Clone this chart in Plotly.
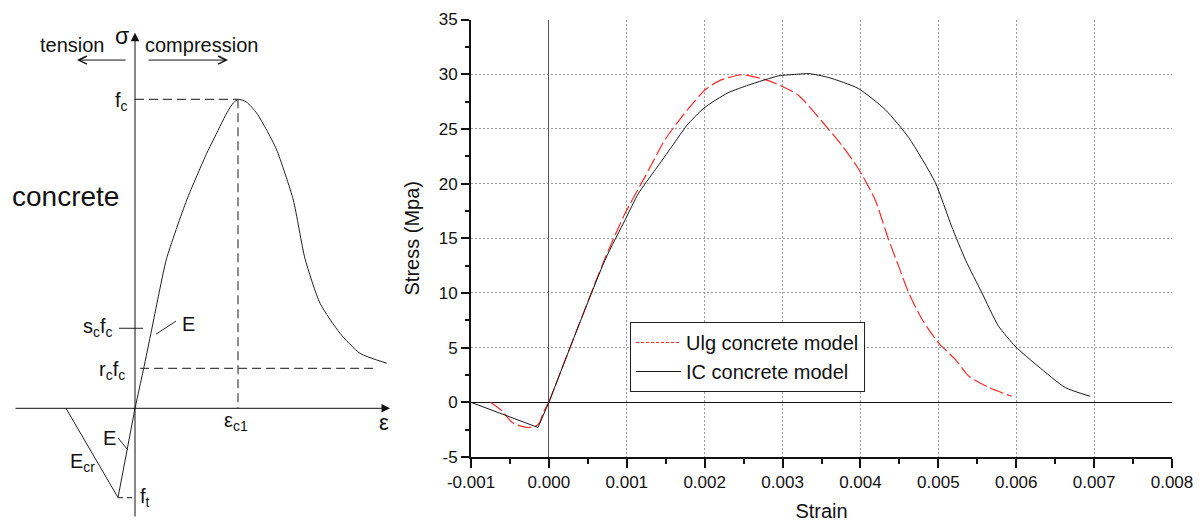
import plotly.graph_objects as go

# ---------------- right chart data ----------------
ic_strain = [-0.001, -0.00014, 0.0, 0.00072, 0.00098, 0.00115, 0.00137, 0.00158, 0.00177,
             0.00199, 0.0023, 0.00256, 0.00278, 0.00295, 0.0032, 0.00334, 0.00359, 0.00397,
             0.00432, 0.00462, 0.00496, 0.00517, 0.00535, 0.00556, 0.00577, 0.00599, 0.00628,
             0.00663, 0.00695]
ic_stress = [0.0, -2.3, 0.0, 13.0, 16.7, 19.1, 21.3, 23.4, 25.3,
             26.9, 28.3, 29.0, 29.5, 29.85, 30.0, 30.05, 29.7, 28.7,
             26.75, 24.2, 20.1, 16.1, 13.0, 10.0, 7.0, 5.1, 3.3,
             1.35, 0.55]

ulg_strain = [-0.00075, -0.0006, -0.00047, -0.00035, -0.00026, -0.00015, -0.00011, -0.00007, 0.0,
              0.00074, 0.00098, 0.00124, 0.00149, 0.00175, 0.00201, 0.00222, 0.00248, 0.00278,
              0.00299, 0.0032, 0.00354, 0.00376, 0.00397, 0.00419, 0.00436, 0.00449, 0.00462,
              0.00479, 0.005, 0.00522, 0.00539, 0.00565, 0.00594]
ulg_stress = [0.0, -0.8, -1.85, -2.2, -2.3, -2.1, -1.7, -0.9, 0.0,
              13.5, 17.3, 20.7, 24.0, 26.5, 28.6, 29.5, 29.95, 29.5,
              28.9, 28.1, 25.4, 23.5, 21.4, 18.5, 14.9, 12.45, 10.0,
              7.6, 5.45, 3.9, 2.4, 1.35, 0.55]

series_names = ["Ulg concrete model", "IC concrete model"]

x_ticks = [-0.001, 0.0, 0.001, 0.002, 0.003, 0.004, 0.005, 0.006, 0.007, 0.008]
x_tick_text = ["-0.001", "0.000", "0.001", "0.002", "0.003", "0.004", "0.005", "0.006", "0.007", "0.008"]
x_minor = [-0.0005, 0.0005, 0.0015, 0.0025, 0.0035, 0.0045, 0.0055, 0.0065, 0.0075]
y_ticks = [-5, 0, 5, 10, 15, 20, 25, 30, 35]
y_tick_text = ["-5", "0", "5", "10", "15", "20", "25", "30", "35"]
y_minor = [-2.5, 2.5, 7.5, 12.5, 17.5, 22.5, 27.5, 32.5]
x_grid = [0.001, 0.002, 0.003, 0.004, 0.005, 0.006, 0.007]
y_grid = [5, 10, 15, 20, 25, 30]

# ---------------- left schematic data (eps / eps_c1, sigma / f_c) ----------------
sch_comp_eps = [0.0, 0.081, 0.161, 0.226, 0.307, 0.502, 0.696, 0.760, 0.890, 0.954, 1.003, 1.084,
                1.182, 1.279, 1.376, 1.537, 1.650, 1.796, 1.990, 2.184, 2.444]
sch_comp_sig = [0.0, 0.124, 0.253, 0.361, 0.485, 0.674, 0.825, 0.868, 0.955, 0.988, 1.0, 0.991,
                0.955, 0.900, 0.836, 0.674, 0.485, 0.340, 0.243, 0.178, 0.146]
sch_tens_eps = [0.0, -0.165, -0.670]
sch_tens_sig = [0.0, -0.289, 0.0]
fc_level = 1.0
eps_c1 = 1.0
sc_level = 0.259
rc_level = 0.129
ft_level = -0.289

FONT = "Arial, Liberation Sans, sans-serif"
W, H = 1203, 522

fig = go.Figure()


def split_at_zero(xs, ys):
    """tension branch (x <= 0) and compression branch (x >= 0)"""
    t = [(a, b) for a, b in zip(xs, ys) if a <= 0]
    c = [(a, b) for a, b in zip(xs, ys) if a >= 0]
    return [p[0] for p in t], [p[1] for p in t], [p[0] for p in c], [p[1] for p in c]


ulg_tx, ulg_ty, ulg_cx, ulg_cy = split_at_zero(ulg_strain, ulg_stress)
ic_tx, ic_ty, ic_cx, ic_cy = split_at_zero(ic_strain, ic_stress)

red = dict(color="#ff2a2a", width=1.2, dash="14px,4px")
blk = dict(color="#1a1a1a", width=1)

# ---- right chart traces ----
fig.add_trace(go.Scatter(x=ulg_tx, y=ulg_ty, mode="lines", showlegend=False,
                         line=dict(red, shape="spline", smoothing=0.8)))
fig.add_trace(go.Scatter(x=ulg_cx, y=ulg_cy, mode="lines", showlegend=False,
                         line=dict(red, shape="spline", smoothing=0.6)))
fig.add_trace(go.Scatter(x=ic_tx, y=ic_ty, mode="lines", showlegend=False, line=blk))
fig.add_trace(go.Scatter(x=ic_cx, y=ic_cy, mode="lines", showlegend=False,
                         line=dict(blk, shape="spline", smoothing=0.6)))
fig.add_trace(go.Scatter(x=[None], y=[None], mode="lines", name=series_names[0],
                         line=dict(color="#ff2a2a", width=1.2, dash="3px,2px")))
fig.add_trace(go.Scatter(x=[None], y=[None], mode="lines", name=series_names[1], line=blk))
# invisible trace on the grid overlay axes
fig.add_trace(go.Scatter(x=[x_ticks[0]], y=[y_ticks[0]], mode="markers", showlegend=False,
                         marker=dict(opacity=0), hoverinfo="skip", xaxis="x3", yaxis="y3"))

# ---- left schematic traces ----
line_k = dict(color="#222", width=1)
dash_k = dict(color="#444", width=1.2, dash="9px,5px")


def sch(xs, ys, line):
    fig.add_trace(go.Scatter(x=xs, y=ys, mode="lines", line=line, showlegend=False,
                             hoverinfo="skip", xaxis="x2", yaxis="y2"))


sch(sch_comp_eps, sch_comp_sig, dict(line_k, shape="spline", smoothing=0.6))
sch(sch_tens_eps, sch_tens_sig, line_k)
sch([0, eps_c1], [fc_level, fc_level], dash_k)
sch([eps_c1, eps_c1], [fc_level, 0], dash_k)
sch([0.05, 2.31], [rc_level, rc_level], dash_k)
sch([sch_tens_eps[1], 0], [ft_level, ft_level], dict(color="#444", width=1.2, dash="5px,4px"))
sch([-0.155, 0.078], [sc_level, sc_level], line_k)
sch([0.204, 0.398], [0.240, 0.282], line_k)
sch([-0.165, -0.068], [-0.096, -0.135], line_k)

# pixel layout of the schematic (origin at px 135, 408.3; 103 px per eps_c1, 309 px per f_c)
OX, OY, SX, SY = 135.0, 408.3, 103.0, 309.0
LEFT_W = 400.0

annotations = []


def txt(x, y, s, size=20, xanchor="center", yanchor="middle"):
    annotations.append(dict(x=x, y=y, xref="x2", yref="y2", text=s, showarrow=False,
                            font=dict(family=FONT, size=size, color="#111"),
                            xanchor=xanchor, yanchor=yanchor))


def arrow(x0, y0, x1, y1, head, size, width=1):
    annotations.append(dict(x=x1, y=y1, ax=x0, ay=y0, xref="x2", yref="y2", axref="x2", ayref="y2",
                            text="", showarrow=True, arrowhead=head, arrowsize=size,
                            arrowwidth=width, arrowcolor="#111", standoff=0, startstandoff=0))


# axes of the schematic
arrow(0, -0.355, 0, 1.215, 2, 1.7)
arrow(-1.175, 0, 2.476, 0, 2, 1.7)
# tension / compression arrows
arrow(-0.078, 1.127, -0.563, 1.127, 5, 1.6)
arrow(0.117, 1.127, 0.903, 1.127, 5, 1.6)

txt(-0.272, 1.176, "tension", xanchor="right")
txt(-0.131, 1.205, "σ", size=23)
txt(0.078, 1.176, "compression", xanchor="left")
txt(-1.214, 0.684, "concrete", size=28, xanchor="left")
txt(-0.049, 0.994, "f<sub>c</sub>", xanchor="right")
txt(-0.194, 0.263, "s<sub>c</sub>f<sub>c</sub>", xanchor="right")
txt(-0.078, 0.121, "r<sub>c</sub>f<sub>c</sub>", xanchor="right")
txt(0.437, 0.273, "E", xanchor="left")
txt(-0.165, -0.096, "E", xanchor="right")
txt(-0.650, -0.177, "E<sub>cr</sub>", xanchor="left")
txt(0.029, -0.29, "f<sub>t</sub>", xanchor="left")
txt(0.98, -0.044, "ε<sub>c1</sub>")
txt(2.417, -0.047, "ε", size=22)

x_dom = [471 / W, 1172 / W]
y_dom = [1 - 457 / H, 1 - 19.5 / H]

axis_font = dict(family=FONT, size=17, color="#111")

fig.update_layout(
    width=W, height=H,
    margin=dict(l=0, r=0, t=0, b=0, autoexpand=False),
    paper_bgcolor="white", plot_bgcolor="rgba(0,0,0,0)",
    font=dict(family=FONT, color="#111"),
    showlegend=True,
    legend=dict(x=630 / W, y=1 - 322 / H, xanchor="left", yanchor="top",
                bgcolor="white", bordercolor="#222", borderwidth=1,
                font=dict(family=FONT, size=20, color="#111"),
                tracegroupgap=0, itemwidth=45),
    xaxis=dict(domain=x_dom, range=[x_ticks[0], x_ticks[-1]], anchor="y", automargin=False,
               tickmode="array", tickvals=x_ticks, ticktext=x_tick_text,
               ticks="outside", ticklen=9, tickwidth=1.5, tickcolor="#111",
               tickfont=axis_font,
               minor=dict(tickvals=x_minor, ticks="outside", ticklen=5, tickwidth=1.5, tickcolor="#111", showgrid=False),
               showline=True, linecolor="#111", linewidth=2,
               showgrid=False, zeroline=True, zerolinecolor="#555", zerolinewidth=1,
               title=dict(text="Strain", font=dict(family=FONT, size=20, color="#111"), standoff=16)),
    yaxis=dict(domain=y_dom, range=[y_ticks[0], y_ticks[-1]], anchor="x", automargin=False,
               tickmode="array", tickvals=y_ticks, ticktext=y_tick_text,
               ticks="outside", ticklen=8, tickwidth=1.5, tickcolor="#111",
               tickfont=axis_font,
               minor=dict(tickvals=y_minor, ticks="outside", ticklen=4, tickwidth=1.5, tickcolor="#111", showgrid=False),
               showline=True, linecolor="#111", linewidth=2,
               showgrid=False, zeroline=True, zerolinecolor="#111", zerolinewidth=1,
               title=dict(text="Stress (Mpa)", font=dict(family=FONT, size=20, color="#111"), standoff=14)),
    xaxis3=dict(domain=x_dom, range=[x_ticks[0], x_ticks[-1]], overlaying="x", anchor="y3", automargin=False,
                tickmode="array", tickvals=x_grid, showticklabels=False, ticks="",
                showgrid=True, gridcolor="#9a9a9a", gridwidth=1, griddash="2px,2px",
                zeroline=False, showline=False),
    yaxis3=dict(domain=y_dom, range=[y_ticks[0], y_ticks[-1]], overlaying="y", anchor="x3", automargin=False,
                tickmode="array", tickvals=y_grid, showticklabels=False, ticks="",
                showgrid=True, gridcolor="#9a9a9a", gridwidth=1, griddash="2px,2px",
                zeroline=False, showline=False),
    xaxis2=dict(domain=[0, LEFT_W / W], range=[(0 - OX) / SX, (LEFT_W - OX) / SX],
                visible=False, anchor="y2", automargin=False),
    yaxis2=dict(domain=[0, 1], range=[(OY - H) / SY, OY / SY], visible=False, anchor="x2", automargin=False),
    annotations=annotations,
)

fig.write_html("out.html", config=dict(displayModeBar=False),
               post_script="document.body.style.margin='0';document.body.style.overflow='hidden';")
